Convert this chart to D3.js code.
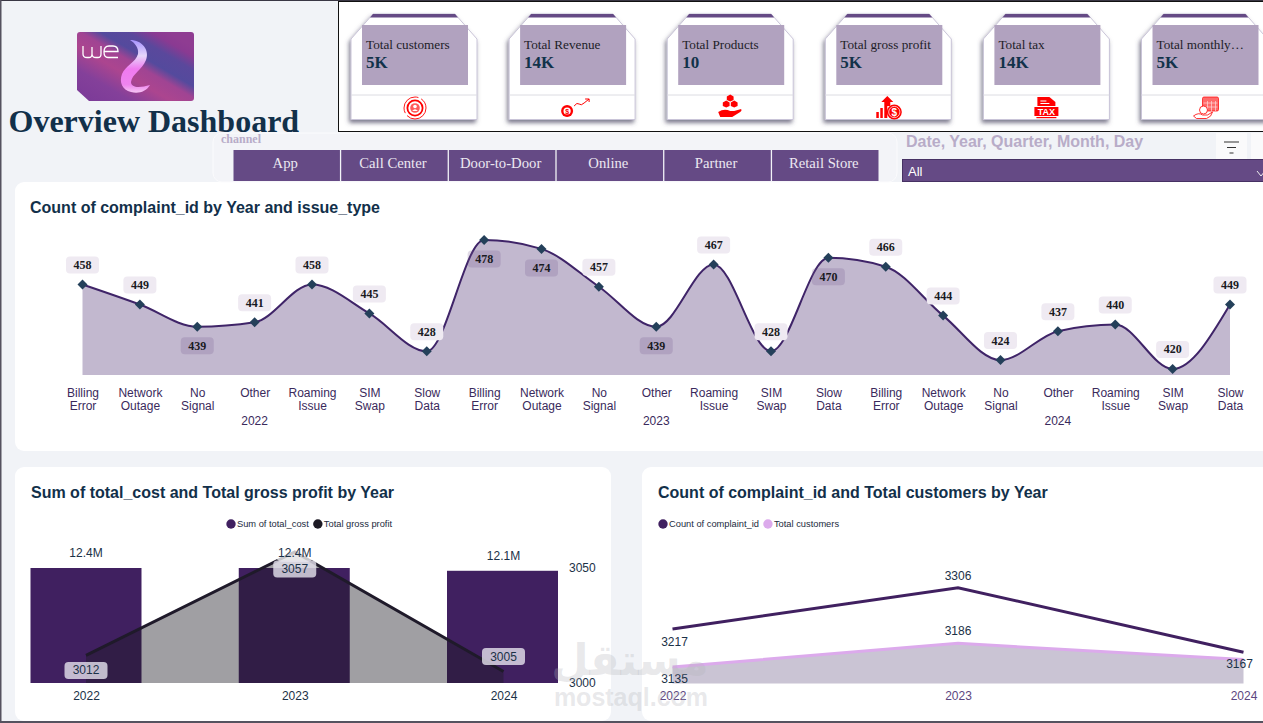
<!doctype html>
<html>
<head>
  <title>Overview Dashboard</title>
  <script src="https://d3js.org/d3.v7.min.js"></script>
  <style>
    html, body { margin: 0; padding: 0; background: #f1f3f7; overflow: hidden; }
    svg { display: block; }
    text { font-family: "Liberation Sans", Arial, sans-serif; }
    .serif { font-family: "Liberation Serif", "Times New Roman", serif; }
  </style>
</head>
<body>
  <svg id="dash" width="1263" height="723"></svg>

  <script>
    // kpi cards
    const kpiNames = ['Total customers', 'Total Revenue', 'Total Products', 'Total gross profit', 'Total tax', 'Total monthly…'];
    const kpiValues = ['5K', '14K', '10', '5K', '14K', '5K'];
    const channels = ['App', 'Call Center', 'Door-to-Door', 'Online', 'Partner', 'Retail Store'];

    // complaints by year and issue type
    const issueYears = ['2022', '2023', '2024'];
    const issueTypes = ['Billing Error', 'Network Outage', 'No Signal', 'Other', 'Roaming Issue', 'SIM Swap', 'Slow Data'];
    const complaints2022 = [458, 449, 439, 441, 458, 445, 428];
    const complaints2023 = [478, 474, 457, 439, 467, 428, 470];
    const complaints2024 = [466, 444, 424, 437, 440, 420, 449];
    const labelsBelow = ['2022|No Signal', '2023|Billing Error', '2023|Network Outage', '2023|Other', '2023|Slow Data'];

    // bottom charts
    const years = ['2022', '2023', '2024'];
    const totalCost = [12.4, 12.4, 12.1];
    const grossProfit = [3012, 3057, 3005];
    const complaintCount = [3217, 3306, 3167];
    const totalCustomers = [3135, 3186, 3151];
    const customerLabels = ['3135', '3186', null];

    const INK = '#1b3147';
    const PURPLE = '#654a85';
    const DEEP = '#402060';

    const svg = d3.select('#dash');
    const defs = svg.append('defs');

    // page frame
    svg.append('rect').attr('width', 1263).attr('height', 723).attr('fill', '#f1f3f7');

    function card(x, y, w, h) {
      svg.append('rect').attr('x', x).attr('y', y).attr('width', w).attr('height', h).attr('rx', 9).attr('fill', '#fff');
    }
    card(15, 182, 1260, 269);
    card(15, 467, 596, 254);
    card(642, 467, 640, 254);

    drawLogo();
    svg.append('text').attr('class', 'serif').attr('x', 8.5).attr('y', 132)
      .attr('font-size', 32).attr('font-weight', 700).attr('fill', '#12304a').text('Overview Dashboard');

    drawKpis();
    drawSlicers();
    drawIssueChart();
    drawCostChart();
    drawCustomerChart();
    drawWatermark();

    svg.append('rect').attr('x', 0).attr('y', 0).attr('width', 1263).attr('height', 1).attr('fill', '#3a3744');
    svg.append('rect').attr('x', 0).attr('y', 0).attr('width', 1.5).attr('height', 723).attr('fill', '#55525f');
    svg.append('rect').attr('x', 0).attr('y', 721).attr('width', 1263).attr('height', 2).attr('fill', '#55525f');

    function drawLogo() {
      const grad = defs.append('linearGradient').attr('id', 'logoGrad').attr('gradientUnits', 'userSpaceOnUse')
        .attr('x1', 100).attr('y1', 108).attr('x2', 150).attr('y2', 22);
      grad.append('stop').attr('offset', '0').attr('stop-color', '#7c3b98');
      grad.append('stop').attr('offset', '0.22').attr('stop-color', '#84409a');
      grad.append('stop').attr('offset', '0.42').attr('stop-color', '#ac458f');
      grad.append('stop').attr('offset', '0.56').attr('stop-color', '#a04493');
      grad.append('stop').attr('offset', '0.66').attr('stop-color', '#544a9d');
      grad.append('stop').attr('offset', '0.8').attr('stop-color', '#5a489c');
      grad.append('stop').attr('offset', '0.92').attr('stop-color', '#8a3a92');
      grad.append('stop').attr('offset', '1').attr('stop-color', '#8f3c92');
      const swirl = defs.append('linearGradient').attr('id', 'swirlGrad')
        .attr('x1', 0).attr('y1', 0).attr('x2', 0).attr('y2', 1);
      swirl.append('stop').attr('offset', '0').attr('stop-color', '#a793ff');
      swirl.append('stop').attr('offset', '0.3').attr('stop-color', '#e6d6fa');
      swirl.append('stop').attr('offset', '0.55').attr('stop-color', '#f07af0');
      swirl.append('stop').attr('offset', '0.85').attr('stop-color', '#ee84ee');
      swirl.append('stop').attr('offset', '1').attr('stop-color', '#f6c8f4');

      svg.append('path').attr('fill', 'url(#logoGrad)')
        .attr('d', 'M80 32 H191 Q194 32 194 35 V98 Q194 101 191 101 H89 L77 90 V35 Q77 32 80 32 Z');
      svg.append('path').attr('fill', 'url(#swirlGrad)')
        .attr('d', 'M130 40 C142 40 150 50 146 60 C142 70 132 74 131 82 C131 88 140 88 150 85 C146 92 138 94 131 92 C122 90 119 82 122 74 C125 66 136 62 138 54 C139 48 135 43 130 40 Z');
      svg.append('path').attr('fill', 'none').attr('stroke', '#fff').attr('stroke-width', 1.3)
        .attr('d', 'M83 46 V54 Q83 57.5 87 57.5 H89 Q92 57.5 92 54 V47 V54 Q92 57.5 96 57.5 H98 Q101 57.5 101 54 V46 M118 57.5 H108 Q104 57.5 104 52 Q104 46 109 46 H113 Q118 46 118 51.5 H104.5');
    }

    function drawKpis() {
      svg.append('rect').attr('x', 338.5).attr('y', 1.5).attr('width', 930).attr('height', 130)
        .attr('fill', '#fff').attr('stroke', '#111');
      const shadow = defs.append('filter').attr('id', 'kpiShadow')
        .attr('x', '-10%').attr('y', '-10%').attr('width', '120%').attr('height', '125%');
      shadow.append('feDropShadow').attr('dx', -1.5).attr('dy', 3).attr('stdDeviation', 2)
        .attr('flood-color', '#4a4460').attr('flood-opacity', 0.7);

      const kpiX = d3.scaleBand().domain(kpiNames).range([351, 351 + 158.1 * 6]).paddingInner(0);
      const g = svg.selectAll('g.kpi').data(kpiNames).enter().append('g').attr('class', 'kpi')
        .attr('transform', (d) => `translate(${kpiX(d)},14)`);

      g.append('path').attr('d', 'M22 0 H104 L126 25 V105.5 H0 V25 Z')
        .attr('fill', '#fff').attr('stroke', '#c9c4d8').attr('filter', 'url(#kpiShadow)');
      g.append('path').attr('d', 'M22 0 H104 L107 3.5 H19 Z').attr('fill', PURPLE);
      g.append('rect').attr('x', 11).attr('y', 11).attr('width', 106).attr('height', 60).attr('fill', '#b1a2bf');
      g.append('line').attr('x1', 0).attr('x2', 126).attr('y1', 81).attr('y2', 81).attr('stroke', '#dcdce2');
      g.append('text').attr('class', 'serif').attr('x', 15).attr('y', 35)
        .attr('font-size', 13.2).attr('fill', '#1d1d28').text((d) => d);
      g.append('text').attr('class', 'serif').attr('x', 15).attr('y', 54)
        .attr('font-size', 17).attr('font-weight', 700).attr('fill', '#12324a')
        .text((d, i) => kpiValues[i]);
      g.each(function (d, i) { drawIcon(d3.select(this).append('g').attr('transform', 'translate(63,93)'), i); });
    }

    // small red glyphs under each kpi
    function drawIcon(g, i) {
      const RED = '#f00';
      if (i === 0) {
        g.append('circle').attr('cx', 1).attr('cy', 1).attr('r', 11).attr('fill', 'none').attr('stroke', RED).attr('stroke-width', 0.9).attr('stroke-dasharray', '26 3');
        g.append('circle').attr('cx', 1).attr('cy', 1).attr('r', 7.6).attr('fill', 'none').attr('stroke', RED).attr('stroke-width', 1.8);
        g.append('circle').attr('cx', 1).attr('cy', 1).attr('r', 4.8).attr('fill', '#ff5a5a');
        g.append('circle').attr('cx', 1).attr('cy', -0.5).attr('r', 1.8).attr('fill', '#fff');
        g.append('path').attr('d', 'M-1.8 4 Q1 0.5 3.8 4 Z').attr('fill', '#fff');
      } else if (i === 1) {
        g.append('circle').attr('cx', -5).attr('cy', 4).attr('r', 6).attr('fill', RED);
        g.append('circle').attr('cx', -5).attr('cy', 4).attr('r', 3.6).attr('fill', '#fff');
        g.append('text').attr('x', -5).attr('y', 6.5).attr('text-anchor', 'middle').attr('font-size', 7).attr('font-weight', 700).attr('fill', RED).text('$');
        g.append('path').attr('d', 'M2 -1 Q5 -5 7 -3 T12 -4 L17 -8 M13 -8 H17 V-5').attr('fill', 'none').attr('stroke', RED);
      } else if (i === 2) {
        [[0, -9], [-4, -3], [4, -3]].forEach((p) => {
          g.append('path').attr('fill', RED).attr('transform', `translate(${p[0]},${p[1]})`)
            .attr('d', 'M0 -3.4 L3.4 -1.5 V2 L0 3.6 L-3.4 2 V-1.5 Z');
        });
        g.append('path').attr('fill', RED).attr('d', 'M-12 5 Q-6 1 0 4 H4 L11 2 Q12 4 10 5 L2 10 H-6 L-10 10 Z');
      } else if (i === 3) {
        g.append('rect').attr('x', -12).attr('y', 5).attr('width', 2.5).attr('height', 6).attr('fill', RED);
        g.append('rect').attr('x', -8).attr('y', 1).attr('width', 2.5).attr('height', 10).attr('fill', RED);
        g.append('path').attr('fill', RED).attr('d', 'M-4 11 V-5 H-7 L-1 -11 L5 -5 H2 V-1 H-1 V11 Z');
        g.append('circle').attr('cx', 6).attr('cy', 5).attr('r', 7.5).attr('fill', RED);
        g.append('circle').attr('cx', 6).attr('cy', 5).attr('r', 5.6).attr('fill', 'none').attr('stroke', '#fff').attr('stroke-width', 0.7);
        g.append('text').attr('x', 6).attr('y', 9).attr('text-anchor', 'middle').attr('font-size', 10)
          .attr('font-weight', 700).attr('fill', '#fff').text('$');
      } else if (i === 4) {
        g.append('path').attr('fill', RED).attr('d', 'M-9 -10 H3 L9 -5 V-1 H-9 Z');
        g.append('path').attr('d', 'M-6 -6 H0 M-6 -3.5 H3').attr('stroke', '#fff').attr('stroke-width', 1.2);
        g.append('rect').attr('x', -12).attr('y', 0).attr('width', 24).attr('height', 9).attr('fill', RED);
        g.append('text').attr('y', 8).attr('text-anchor', 'middle').attr('font-size', 9)
          .attr('font-weight', 700).attr('fill', '#fff').text('TAX');
        g.append('rect').attr('x', -10).attr('y', 10).attr('width', 20).attr('height', 1.2).attr('fill', RED);
      } else {
        g.append('rect').attr('x', -2).attr('y', -10).attr('width', 16).attr('height', 14).attr('rx', 1.5)
          .attr('fill', '#ff6a6a').attr('stroke', RED).attr('stroke-width', 0.7);
        g.append('path').attr('d', 'M-1 -4 H13 M-1 0 H13 M3 -6 V4 M7 -6 V4 M11 -6 V4').attr('stroke', '#ffd8d8').attr('stroke-width', 0.7);
        g.append('circle').attr('cx', -1).attr('cy', 3).attr('r', 4).attr('fill', '#fff').attr('stroke', RED).attr('stroke-width', 0.8);
        g.append('path').attr('d', 'M-11 9 Q-6 5 -2 8 H3 L8 5 Q7 10 2 11.5 H-8 Z').attr('fill', '#fff').attr('stroke', RED).attr('stroke-width', 0.8);
      }
    }

    function drawSlicers() {
      svg.append('rect').attr('x', 213).attr('y', 133).attr('width', 684).attr('height', 49).attr('rx', 9)
        .attr('fill', '#f3f4f8').attr('stroke', '#fbfbfd');
      svg.append('text').attr('class', 'serif').attr('x', 221).attr('y', 143).attr('font-size', 12)
        .attr('font-weight', 700).attr('fill', '#b8acc8').text('channel');

      const buttonX = d3.scaleBand().domain(channels).range([233.5, 878.5]).paddingInner(0.012);
      const b = svg.selectAll('g.btn').data(channels).enter().append('g').attr('class', 'btn');
      b.append('rect').attr('x', (d) => buttonX(d)).attr('y', 150).attr('width', buttonX.bandwidth()).attr('height', 31)
        .attr('fill', PURPLE);
      b.append('text').attr('class', 'serif').attr('x', (d) => buttonX(d) + buttonX.bandwidth() / 2 - 1.5).attr('y', 168)
        .attr('text-anchor', 'middle').attr('font-size', 14.7).attr('fill', '#ece8f1').text((d) => d);

      svg.append('text').attr('x', 906).attr('y', 147).attr('font-size', 16).attr('font-weight', 700)
        .attr('fill', '#b8acc8').text('Date, Year, Quarter, Month, Day');
      svg.append('rect').attr('x', 1216).attr('y', 133).attr('width', 31).attr('height', 26).attr('fill', '#fafafb');
      svg.append('rect').attr('x', 1251).attr('y', 133).attr('width', 12).attr('height', 26).attr('fill', '#fafafb');
      svg.append('path').attr('d', 'M1224 142 H1239 M1227 147.5 H1236 M1229.5 153 H1233.5').attr('stroke', '#333').attr('stroke-width', 1.2);
      svg.append('rect').attr('x', 902.5).attr('y', 159.5).attr('width', 380).attr('height', 22)
        .attr('fill', PURPLE).attr('stroke', '#463163');
      svg.append('text').attr('x', 908).attr('y', 176).attr('font-size', 13).attr('fill', '#fff').text('All');
      svg.append('path').attr('d', 'M1257 171 L1261 176 L1265 171').attr('fill', 'none').attr('stroke', '#eee');
    }

    function chartTitle(x, y, txt) {
      svg.append('text').attr('x', x).attr('y', y).attr('font-size', 16).attr('font-weight', 700)
        .attr('fill', '#12304a').text(txt);
    }

    function pill(g, cx, cy, w, h, fill, txt, serif) {
      g.append('rect').attr('x', cx - w / 2).attr('y', cy - h / 2).attr('width', w).attr('height', h)
        .attr('rx', 4).attr('fill', fill);
      g.append('text').attr('class', serif ? 'serif' : null).attr('x', cx).attr('y', cy + 4)
        .attr('text-anchor', 'middle').attr('font-size', 12)
        .attr('font-weight', serif ? 700 : 400).attr('fill', serif ? '#1a1a22' : INK).text(txt);
    }

    function drawIssueChart() {
      chartTitle(30, 213, 'Count of complaint_id by Year and issue_type');

      const allValues = [complaints2022, complaints2023, complaints2024];
      const rows = issueYears.flatMap((year, i) => issueTypes.map((type, j) => ({
        key: year + '|' + type, year: year, type: type, value: allValues[i][j]
      })));

      const x = d3.scalePoint().domain(rows.map((d) => d.key)).range([82.5, 1230]);
      const y = d3.scaleLinear().domain([417.3, 478]).range([375, 240]);

      const area = d3.area().x((d) => x(d.key)).y0(y(417.3)).y1((d) => y(d.value)).curve(d3.curveMonotoneX);
      const line = d3.line().x((d) => x(d.key)).y((d) => y(d.value)).curve(d3.curveMonotoneX);

      svg.append('path').datum(rows).attr('d', area).attr('fill', '#c2b8cf');
      svg.append('path').datum(rows).attr('d', line).attr('fill', 'none').attr('stroke', '#3f2468').attr('stroke-width', 2);

      svg.selectAll('path.mark').data(rows).enter().append('path').attr('class', 'mark')
        .attr('transform', (d) => `translate(${x(d.key)},${y(d.value)}) rotate(45)`)
        .attr('d', d3.symbol().type(d3.symbolSquare).size(50)).attr('fill', '#24405a');

      const lab = svg.append('g');
      rows.forEach((d) => {
        const below = labelsBelow.includes(d.key);
        const cy = below ? y(d.value) + 19 : y(d.value) - 19.5;
        pill(lab, x(d.key), cy, 33, 17, below ? 'rgba(112,88,140,0.22)' : '#efeaf2', d.value, true);
      });

      const axis = d3.axisBottom(x).tickSize(0).tickPadding(0).tickFormat((d) => d.split('|')[1]);
      const axisG = svg.append('g').attr('transform', 'translate(0,384)').call(axis);
      axisG.select('.domain').remove();
      axisG.selectAll('text').each(function (d) {
        const words = d.split('|')[1].split(' ');
        const t = d3.select(this).text(null).attr('font-size', 12).attr('fill', '#3a2a5c').attr('y', 0).attr('dy', null);
        t.attr('font-family', '"Liberation Sans", Arial, sans-serif');
        words.forEach((w, i) => t.append('tspan').attr('x', 0).attr('y', 13 + i * 13).text(w));
      });

      issueYears.forEach((year) => {
        svg.append('text').attr('x', x(year + '|Other')).attr('y', 425).attr('text-anchor', 'middle')
          .attr('font-size', 12).attr('fill', '#3a2a5c').text(year);
      });
    }

    function legend(x, y, items) {
      let cx = x;
      items.forEach((it) => {
        svg.append('circle').attr('cx', cx + 5).attr('cy', y).attr('r', 4.7).attr('fill', it.color);
        const t = svg.append('text').attr('x', cx + 11).attr('y', y + 3).attr('font-size', 9.3).attr('fill', '#1b2a3d').text(it.name);
        cx += 11 + t.node().getComputedTextLength() + 4;
      });
    }

    function drawCostChart() {
      chartTitle(31, 498, 'Sum of total_cost and Total gross profit by Year');
      legend(226, 524, [{ name: 'Sum of total_cost', color: DEEP }, { name: 'Total gross profit', color: '#1d1a24' }]);

      const x = d3.scaleBand().domain(years).range([30.5, 558]).paddingInner(0.467).paddingOuter(0);
      const xLine = d3.scalePoint().domain(years).range([86, 503.5]);
      const yBar = d3.scaleLinear().domain([0, 12.4]).range([683, 568]);
      const yLine = d3.scaleLinear().domain([3000, 3050]).range([683, 568]);
      const rows = years.map((d, i) => ({ year: d, cost: totalCost[i], profit: grossProfit[i] }));

      svg.selectAll('rect.bar').data(rows).enter().append('rect').attr('class', 'bar')
        .attr('x', (d) => x(d.year)).attr('width', x.bandwidth())
        .attr('y', (d) => yBar(d.cost)).attr('height', (d) => yBar(0) - yBar(d.cost))
        .attr('fill', DEEP);

      const area = d3.area().x((d) => xLine(d.year)).y0(yLine(3000)).y1((d) => yLine(d.profit));
      const line = d3.line().x((d) => xLine(d.year)).y((d) => yLine(d.profit));
      svg.append('path').datum(rows).attr('d', area).attr('fill', '#1d1a24').attr('fill-opacity', 0.42);
      svg.append('path').datum(rows).attr('d', line).attr('fill', 'none').attr('stroke', '#1f1a2a').attr('stroke-width', 3);

      // pale halo that hides the 2023 peak behind its labels
      svg.append('rect').attr('x', xLine('2023') - 19).attr('y', yLine(3057) - 2).attr('width', 38).attr('height', 12)
        .attr('rx', 7).attr('fill', '#fff').attr('fill-opacity', 0.75);

      rows.forEach((d) => {
        svg.append('text').attr('x', xLine(d.year)).attr('y', yBar(d.cost) - 11)
          .attr('text-anchor', 'middle').attr('font-size', 12).attr('fill', INK).text(d.cost.toFixed(1) + 'M');
      });

      const below = { '2022': 15, '2023': 17, '2024': -15 };
      const lab = svg.append('g');
      rows.forEach((d) => {
        pill(lab, xLine(d.year), yLine(d.profit) + below[d.year], 43, 17, 'rgba(226,222,234,0.82)', d.profit, false);
      });

      const xAxis = d3.axisBottom(xLine).tickSize(0).tickPadding(8);
      const xg = svg.append('g').attr('transform', 'translate(0,683)').call(xAxis);
      xg.select('.domain').remove();
      xg.selectAll('text').attr('font-size', 12).attr('fill', INK).attr('font-family', '"Liberation Sans", Arial, sans-serif');

      const yAxis = d3.axisRight(yLine).tickValues([3000, 3050]).tickSize(0).tickPadding(11).tickFormat(d3.format('d'));
      const yg = svg.append('g').attr('transform', 'translate(558,0)').call(yAxis);
      yg.select('.domain').remove();
      yg.selectAll('text').attr('font-size', 12).attr('fill', INK).attr('font-family', '"Liberation Sans", Arial, sans-serif');
    }

    function drawCustomerChart() {
      chartTitle(658, 498, 'Count of complaint_id and Total customers by Year');
      legend(658, 524, [{ name: 'Count of complaint_id', color: DEEP }, { name: 'Total customers', color: '#dcaaec' }]);

      const x = d3.scalePoint().domain(years).range([672.5, 1243.5]);
      const y = d3.scaleLinear().domain([3099.5, 3306]).range([683.5, 587.7]);
      const rows = years.map((d, i) => ({ year: d, count: complaintCount[i], cust: totalCustomers[i], label: customerLabels[i] }));

      svg.append('path').datum(rows)
        .attr('d', d3.area().x((d) => x(d.year)).y0(y(3099.5)).y1((d) => y(d.cust)))
        .attr('fill', '#cac4d4');
      svg.append('path').datum(rows)
        .attr('d', d3.line().x((d) => x(d.year)).y((d) => y(d.cust)))
        .attr('fill', 'none').attr('stroke', '#dcaaec').attr('stroke-width', 3);
      svg.append('path').datum(rows)
        .attr('d', d3.line().x((d) => x(d.year)).y((d) => y(d.count)))
        .attr('fill', 'none').attr('stroke', DEEP).attr('stroke-width', 3);

      const countOffset = { '2022': [2, 17], '2023': [0, -8], '2024': [-4, 16] };
      rows.forEach((d) => {
        svg.append('text').attr('x', x(d.year) + countOffset[d.year][0]).attr('y', y(d.count) + countOffset[d.year][1])
          .attr('text-anchor', 'middle').attr('font-size', 12).attr('fill', INK).text(d.count);
        if (d.label) {
          const near = d.year === '2022';
          svg.append('text').attr('x', x(d.year) + (near ? 2 : 0)).attr('y', y(d.cust) + (near ? 16 : -8))
            .attr('text-anchor', 'middle').attr('font-size', 12).attr('fill', INK).text(d.label);
        }
      });

      const xg = svg.append('g').attr('transform', 'translate(0,683)').call(d3.axisBottom(x).tickSize(0).tickPadding(8));
      xg.select('.domain').remove();
      xg.selectAll('text').attr('font-size', 12).attr('fill', '#5c4680').attr('font-family', '"Liberation Sans", Arial, sans-serif');
    }

    function drawWatermark() {
      svg.append('text').attr('x', 630).attr('y', 675).attr('text-anchor', 'middle')
        .attr('font-size', 43).attr('font-weight', 700)
        .attr('fill', '#b4b4ba').attr('fill-opacity', 0.3).style('font-family', '"DejaVu Sans", sans-serif').text('مستقل');
      svg.append('text').attr('x', 631).attr('y', 706).attr('text-anchor', 'middle')
        .attr('font-size', 25).attr('font-weight', 700)
        .attr('fill', '#b4b4ba').attr('fill-opacity', 0.3).text('mostaql.com');
    }
  </script>
</body>
</html>
